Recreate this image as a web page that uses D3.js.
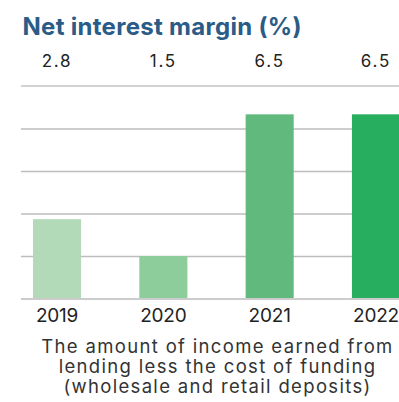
<!DOCTYPE html>
<html>
<head>
<meta charset="utf-8">
<script src="https://cdn.jsdelivr.net/npm/d3@7"></script>
<style>
  html, body { margin: 0; padding: 0; background: #fff; }
  svg { display: block; }
</style>
</head>
<body>
<svg id="chart" width="399" height="402"></svg>
<script>
// Net interest margin by year
const years = ["2019", "2020", "2021", "2022"];
const margins = [2.8, 1.5, 6.5, 6.5];
const barColors = ["#b3dab8", "#8dcc9b", "#62b97d", "#28ae5f"];
const gridTicks = [1.5, 3, 4.5, 6];
const title = "Net interest margin (%)";
const captionLines = [
  "The amount of income earned from",
  "lending less the cost of funding",
  "(wholesale and retail deposits)"
];

const svg = d3.select("#chart");
const font = "Inter, 'Open Sans', sans-serif";

// Adjust the glyph spacing of a text group so that a reference string spans the given width
function spread(sel, refNode, width) {
  const n = refNode.textContent.length;
  const w = refNode.getComputedTextLength();
  const ls = (width - w) / (n - 1);
  sel.attr("letter-spacing", ls);
}

const x = d3.scaleBand()
  .domain(years)
  .range([33, 400])
  .paddingInner(0.548)
  .paddingOuter(0);

const y = d3.scaleLinear()
  .domain([0, 7.5])
  .range([298.5, 86]);

// Title
const titleText = svg.append("text")
  .attr("x", 22.5)
  .attr("y", 35)
  .attr("font-family", font)
  .attr("font-weight", 700)
  .attr("font-size", 24)
  .attr("fill", "#2b5b87")
  .text(title);
spread(titleText, titleText.node(), 279);

// Value labels above the chart
const valueLabels = svg.append("g").selectAll("text")
  .data(margins)
  .join("text")
  .attr("x", (d, i) => x(years[i]) + x.bandwidth() / 2)
  .attr("y", 67)
  .attr("text-anchor", "middle")
  .attr("font-family", font)
  .attr("font-size", 17)
  .attr("fill", "#222")
  .text(d => d.toFixed(1));
spread(valueLabels, valueLabels.node(), 29);

// Horizontal gridlines
const gridAxis = d3.axisLeft(y).tickValues(gridTicks).tickSize(-(399 - 21)).tickFormat("");
const g = svg.append("g").attr("transform", "translate(21,0)").call(gridAxis);
g.select(".domain").remove();
g.selectAll(".tick line").attr("stroke", "#bdbdbd").attr("stroke-width", 1.5);

// Top rule
svg.append("line")
  .attr("x1", 21).attr("x2", 399)
  .attr("y1", y(7.5)).attr("y2", y(7.5))
  .attr("stroke", "#d2d2d2").attr("stroke-width", 2);

// Bars
svg.append("g").selectAll("rect")
  .data(margins)
  .join("rect")
  .attr("x", (d, i) => x(years[i]))
  .attr("width", x.bandwidth())
  .attr("y", d => y(d))
  .attr("height", d => y(0) - y(d))
  .attr("fill", (d, i) => barColors[i]);

// Baseline
svg.append("line")
  .attr("x1", 21).attr("x2", 399)
  .attr("y1", y(0) + 0.5).attr("y2", y(0) + 0.5)
  .attr("stroke", "#cccccc").attr("stroke-width", 2);

// Year labels
const xAxis = d3.axisBottom(x).tickSize(0).tickPadding(0);
const xa = svg.append("g").attr("transform", "translate(0,321.5)").call(xAxis);
xa.select(".domain").remove();
const yearText = xa.selectAll(".tick text")
  .attr("dy", 0)
  .attr("font-family", font)
  .attr("font-size", 19)
  .attr("fill", "#222");
spread(yearText, yearText.node(), 42.5);

// Caption
const caption = svg.append("g").selectAll("text")
  .data(captionLines)
  .join("text")
  .attr("x", 217.5)
  .attr("y", (d, i) => 352.5 + i * 20)
  .attr("text-anchor", "middle")
  .attr("font-family", font)
  .attr("font-size", 18.5)
  .attr("fill", "#333")
  .text(d => d);
spread(caption, caption.node(), 351);
</script>
</body>
</html>
